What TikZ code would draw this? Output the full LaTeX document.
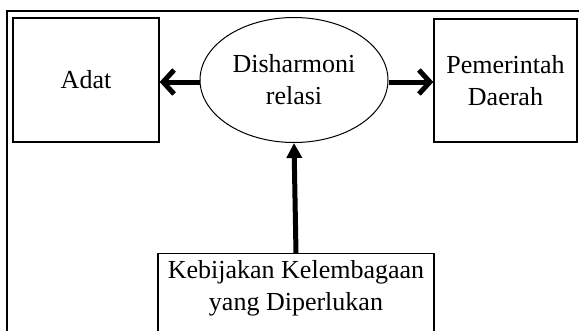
\documentclass[tikz,border=0pt]{standalone}
\usepackage{fontspec}
\setmainfont{Liberation Serif}
\usetikzlibrary{arrows.meta,shapes.geometric}
\begin{document}
\begin{tikzpicture}[x=1pt,y=-1pt,
  box/.style={draw, line width=1.4pt, inner sep=0pt, align=center},
  txt/.style={font=\fontsize{26}{32}\selectfont},
  barb/.style={line width=5pt, -{Straight Barb[length=11pt,width=24pt,line width=5pt]}},
  tri/.style={line width=5pt, -{Triangle[length=15pt,width=15pt]}}]
\useasboundingbox (0,0) rectangle (579,330);
\draw[line width=1.8pt] (7,340) -- (7,11) -- (590,11);
\node[box, txt, minimum width=146pt, minimum height=124pt] (adat) at (86,80) {Adat};
\node[box, txt, minimum width=143pt, minimum height=123pt] (pemda) at (505.5,80.5) {Pemerintah\\Daerah};
\node[draw, line width=1pt, ellipse, minimum width=188pt, minimum height=125pt, inner sep=0pt, txt, align=center] (dis) at (294,80) {Disharmoni\\relasi};
\node[box, txt, anchor=north] (kb) at (296,253) {\parbox[t][100pt][t]{276pt}{\centering\rule{0pt}{25pt}Kebijakan Kelembagaan\\yang Diperlukan}};
\draw[barb] ([yshift=-2pt]dis.west) -- ([yshift=-2pt]dis.west -| adat.east);
\draw[barb] ([yshift=-2pt]dis.east) -- ([yshift=-2pt]dis.east -| pemda.west);
\draw[tri] (kb.north) -- (dis.south);
\end{tikzpicture}
\end{document}
